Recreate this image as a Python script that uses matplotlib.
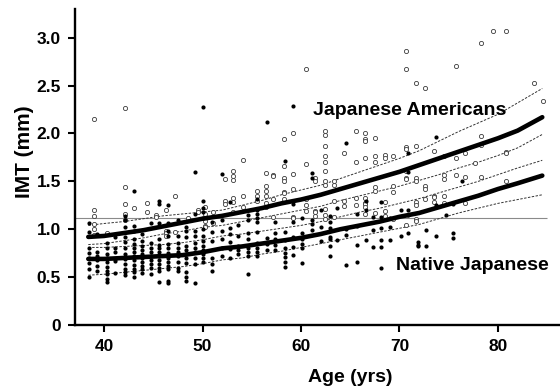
import matplotlib
matplotlib.use("Agg")
import matplotlib.pyplot as plt

plt.rcParams["font.family"] = ["Liberation Sans", "DejaVu Sans"]
plt.rcParams["font.weight"] = "bold"

# Native Japanese (filled dots), one column per age
NJ_COL_AGES = [38.5, 39.3, 40.3, 41.1, 42.1, 43.0, 43.9, 44.8, 45.6, 46.5,
               47.5, 48.3, 49.2, 50.0, 51.0, 52.0, 52.8, 53.6, 54.6, 55.5,
               56.5, 57.4, 58.4, 59.2, 60.1, 61.1, 62.0, 62.9, 63.7, 64.6,
               65.7, 66.6, 67.3, 68.1, 69.0, 70.2, 70.9, 71.9, 72.7, 73.7,
               74.7, 75.4, 76.3]
NJ_COL_IMT = [
    [1.06, 0.97, 0.80, 0.75, 0.70, 0.65, 0.59, 0.50],
    [0.95, 0.76, 0.72, 0.68, 0.62, 0.56],
    [0.86, 0.80, 0.74, 0.70, 0.66, 0.61, 0.56, 0.53, 0.48, 0.45],
    [0.92, 0.80, 0.76, 0.69, 0.67, 0.54],
    [1.14, 1.10, 1.02, 0.92, 0.87, 0.80, 0.74, 0.69, 0.64, 0.59, 0.55, 0.52],
    [1.40, 1.03, 0.98, 0.90, 0.85, 0.80, 0.76, 0.72, 0.68, 0.63, 0.59, 0.55, 0.50],
    [0.95, 0.88, 0.82, 0.78, 0.74, 0.70, 0.66, 0.62, 0.58, 0.54],
    [1.07, 0.86, 0.80, 0.76, 0.72, 0.68, 0.64, 0.60, 0.53],
    [1.29, 1.26, 1.07, 0.90, 0.84, 0.80, 0.76, 0.72, 0.68, 0.64, 0.60, 0.56, 0.45],
    [1.25, 1.07, 0.98, 0.93, 0.85, 0.80, 0.75, 0.70, 0.66, 0.62, 0.58, 0.46, 0.44],
    [1.10, 0.93, 0.86, 0.80, 0.76, 0.72, 0.66, 0.60, 0.56],
    [1.02, 0.98, 0.92, 0.83, 0.78, 0.74, 0.70, 0.65, 0.55, 0.50, 0.46],
    [1.60, 1.16, 0.98, 0.93, 0.86, 0.80, 0.76, 0.70, 0.64, 0.44],
    [2.28, 1.29, 1.22, 1.18, 1.12, 1.00, 0.93, 0.88, 0.83, 0.78, 0.74, 0.70, 0.66],
    [1.08, 0.97, 0.88, 0.70, 0.64, 0.56],
    [1.58, 1.10, 0.98, 0.90, 0.80, 0.72],
    [1.28, 1.01, 0.95, 0.87, 0.79, 0.70],
    [1.04, 0.93, 0.82, 0.78, 0.74],
    [1.15, 1.10, 0.96, 0.90, 0.80, 0.76, 0.72, 0.53],
    [1.32, 1.20, 1.16, 1.12, 1.08, 0.97, 0.86, 0.80, 0.76, 0.72],
    [2.12, 0.91, 0.85, 0.78],
    [1.08, 0.96, 0.90, 0.84, 0.78],
    [1.71, 0.97, 0.89, 0.80, 0.75, 0.71, 0.66, 0.61],
    [2.29, 1.26, 1.08, 0.92, 0.81, 0.73],
    [1.12, 0.96, 0.90, 0.85, 0.80, 0.65],
    [1.59, 1.54, 1.10, 1.05, 0.99],
    [1.20, 1.02, 0.88],
    [1.14, 1.08, 1.01, 0.92, 0.90, 0.82, 0.72],
    [1.22, 0.89],
    [1.90, 1.00, 0.94, 0.63],
    [1.16, 1.03, 0.84, 0.66],
    [1.30, 1.20, 0.89],
    [1.13, 0.99, 0.81],
    [1.28, 1.13, 1.01, 0.89, 0.81, 0.60],
    [1.12, 1.02, 0.89],
    [1.20, 0.93],
    [1.80, 1.60, 1.20, 1.15, 0.96],
    [0.87, 0.84, 0.82],
    [0.99, 0.82],
    [1.96, 1.25, 0.93],
    [1.15],
    [1.26, 0.96, 0.91],
    [1.50],
]

# Japanese Americans (open circles)
JA_COL_AGES = [39.0, 40.3, 42.1, 43.0, 44.4, 45.3, 46.3, 47.2, 48.5, 49.5,
               50.3, 51.1, 52.3, 53.1, 54.1, 55.5, 56.4, 57.2, 58.3, 59.2,
               60.5, 61.4, 62.4, 63.3, 64.4, 65.6, 66.5, 67.5, 68.5, 69.3,
               70.7, 71.7, 72.6, 73.5, 74.5, 75.7, 76.7, 77.7, 78.3, 79.5,
               80.8, 83.7, 84.6]
JA_COL_IMT = [
    [2.15, 1.20, 1.14, 1.05, 1.00, 0.94],
    [0.96],
    [2.27, 1.44, 1.26, 1.16, 1.10],
    [1.22],
    [1.27, 1.18],
    [1.15, 1.13],
    [1.20, 0.98, 0.96, 0.93],
    [1.35, 0.97],
    [1.12],
    [1.20, 1.18],
    [1.23, 1.16, 1.09, 1.03, 1.02],
    [1.18, 1.07],
    [1.52, 1.30, 1.26],
    [1.61, 1.56, 1.51, 1.33, 1.28, 1.18],
    [1.72, 1.35, 1.23],
    [1.40, 1.35, 1.30],
    [1.59, 1.45, 1.40, 1.35, 1.27, 1.23],
    [1.57, 1.56, 1.32, 1.13],
    [1.94, 1.66, 1.54, 1.50, 1.39, 1.38, 1.32],
    [2.01, 1.58, 1.42, 1.13, 1.12],
    [2.67, 1.68, 1.32, 1.25, 1.19],
    [1.54, 1.50, 1.19, 1.18, 1.14],
    [2.03, 1.98, 1.87, 1.76, 1.70, 1.61, 1.50, 1.46, 1.21, 1.15, 1.11],
    [1.50, 1.46, 1.30, 1.13],
    [1.80, 1.30, 1.24],
    [2.03, 1.70, 1.33, 1.25],
    [2.00, 1.94, 1.92, 1.74, 1.33, 1.27, 1.26, 1.23, 1.16],
    [1.95, 1.76, 1.70, 1.44, 1.40, 1.17],
    [1.78, 1.74, 1.28, 1.19, 1.14],
    [1.76, 1.45, 1.39, 1.11],
    [2.86, 2.67, 1.86, 1.84, 1.61, 1.54, 1.52, 1.04],
    [2.53, 1.87, 1.53, 1.50, 1.28, 1.25, 1.11, 1.09],
    [2.48, 1.45, 1.42, 1.32],
    [1.82, 1.35, 1.34, 1.28],
    [1.76, 1.57, 1.52, 1.35, 1.27],
    [2.70, 1.74, 1.57],
    [1.80, 1.55, 1.27],
    [1.69],
    [2.94, 1.97, 1.88, 1.55],
    [3.07],
    [3.07, 1.81, 1.80, 1.50],
    [2.53],
    [2.34],
]

# smoothed curves and their bands
LINE_AGES = [38.4, 40, 42, 44, 46, 48, 50, 52, 54, 56, 58, 60,
             62, 64, 66, 68, 70, 72, 74, 76, 78, 80, 82, 84.5]
JA_MEAN = [0.92, 0.93, 0.96, 0.99, 1.03, 1.07, 1.11, 1.14, 1.18, 1.22, 1.27, 1.31,
           1.36, 1.42, 1.48, 1.54, 1.60, 1.67, 1.74, 1.81, 1.88, 1.95, 2.03, 2.17]
JA_UPPER = [1.04, 1.06, 1.08, 1.11, 1.14, 1.16, 1.18, 1.20, 1.25, 1.30, 1.36, 1.41,
            1.46, 1.53, 1.60, 1.67, 1.74, 1.82, 1.92, 2.02, 2.11, 2.20, 2.32, 2.47]
JA_LOWER = [0.84, 0.85, 0.88, 0.91, 0.95, 0.98, 1.02, 1.04, 1.08, 1.12, 1.16, 1.20,
            1.24, 1.30, 1.35, 1.40, 1.45, 1.51, 1.57, 1.64, 1.70, 1.77, 1.85, 1.99]
NJ_MEAN = [0.69, 0.69, 0.70, 0.71, 0.72, 0.73, 0.76, 0.80, 0.82, 0.85, 0.88, 0.91,
           0.95, 1.00, 1.04, 1.08, 1.13, 1.17, 1.23, 1.29, 1.35, 1.42, 1.48, 1.56]
NJ_UPPER = [0.81, 0.81, 0.82, 0.83, 0.84, 0.86, 0.89, 0.93, 0.95, 0.98, 1.01, 1.04,
            1.08, 1.13, 1.18, 1.22, 1.27, 1.32, 1.38, 1.44, 1.50, 1.57, 1.64, 1.72]
NJ_LOWER = [0.52, 0.53, 0.55, 0.57, 0.59, 0.61, 0.64, 0.68, 0.70, 0.74, 0.77, 0.81,
            0.85, 0.89, 0.93, 0.97, 1.01, 1.05, 1.11, 1.17, 1.22, 1.27, 1.31, 1.36]

REF_IMT = 1.12
REF_END_AGE = 85

Y_TICKS = [0, 0.5, 1.0, 1.5, 2.0, 2.5, 3.0]
Y_LABELS = ["0", "0.5", "1.0", "1.5", "2.0", "2.5", "3.0"]
X_TICKS = [40, 50, 60, 70, 80]


def aplanar(edades, columnas):
    xs = [a for a, vals in zip(edades, columnas) for _ in vals]
    ys = [v for vals in columnas for v in vals]
    return xs, ys


def main():
    fig = plt.figure(figsize=(5.6, 3.91), dpi=100)
    ax = fig.add_axes([75 / 560, 66 / 391, 485 / 560, 316 / 391])

    ax.hlines(REF_IMT, 37.0, REF_END_AGE, color="#8a8a8a", linewidth=0.8, zorder=1)

    for banda in (JA_UPPER, JA_LOWER, NJ_UPPER, NJ_LOWER):
        ax.plot(LINE_AGES, banda, color="#333333", linewidth=0.7,
                linestyle=(0, (2.5, 1.5)), zorder=2)

    nj_x, nj_y = aplanar(NJ_COL_AGES, NJ_COL_IMT)
    ja_x, ja_y = aplanar(JA_COL_AGES, JA_COL_IMT)
    ax.scatter(ja_x, ja_y, s=9, facecolors="white", edgecolors="#3a3a3a",
               linewidths=0.6, zorder=3)
    ax.scatter(nj_x, nj_y, s=9, color="black", linewidths=0, zorder=3)

    ax.plot(LINE_AGES, JA_MEAN, color="black", linewidth=3.3, zorder=4,
            solid_capstyle="round")
    ax.plot(LINE_AGES, NJ_MEAN, color="black", linewidth=3.3, zorder=4,
            solid_capstyle="round")

    ax.text(61.2, 2.24, "Japanese Americans", fontsize=14, fontweight="bold",
            ha="left", va="center")
    ax.text(69.6, 0.62, "Native Japanese", fontsize=14, fontweight="bold",
            ha="left", va="center")

    ax.set_xlim(37.05, 86.3)
    ax.set_ylim(0, 3.3)
    ax.set_xticks(X_TICKS)
    ax.set_yticks(Y_TICKS)
    ax.set_yticklabels(Y_LABELS)
    ax.tick_params(direction="out", length=5, width=1.5, labelsize=12.5, pad=5)
    for lab in ax.get_xticklabels() + ax.get_yticklabels():
        lab.set_fontweight("bold")

    ax.spines["top"].set_visible(False)
    ax.spines["right"].set_visible(False)
    ax.spines["left"].set_linewidth(1.7)
    ax.spines["bottom"].set_linewidth(1.7)

    fig.text(24 / 560, 1 - 152 / 391, "IMT (mm)", rotation=90, fontsize=15,
             fontweight="bold", ha="center", va="center")
    fig.text(350 / 560, 1 - 378 / 391, "Age (yrs)", fontsize=14,
             fontweight="bold", ha="center", va="center")

    fig.savefig("out.png", dpi=100, facecolor="white")
    plt.close(fig)


if __name__ == "__main__":
    main()
